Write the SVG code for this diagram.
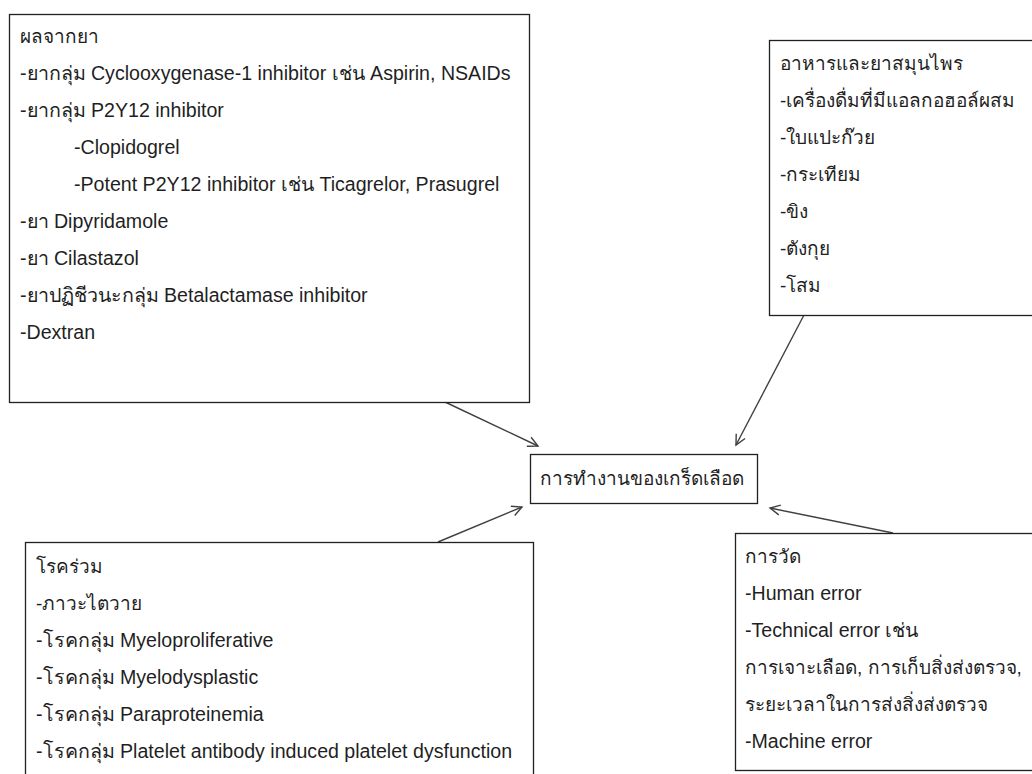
<svg xmlns="http://www.w3.org/2000/svg" width="1032" height="774" viewBox="0 0 1032 774">
<style>
.box{fill:#ffffff;stroke:#202020;stroke-width:1.3}
.t{font-family:"Liberation Sans","Noto Sans",Arial,sans-serif;font-size:19px;fill:#1f1f1f}
.l{font-size:19.6px}
.c{fill:none;stroke:#404040;stroke-width:1.4}
</style>
<defs>
<marker id="ah" markerUnits="userSpaceOnUse" markerWidth="14" markerHeight="14" refX="11" refY="6" orient="auto" viewBox="0 0 14 12">
<path d="M1,1 L11,6 L1,11" fill="none" stroke="#404040" stroke-width="1.4"/>
</marker>
</defs>
<rect width="1032" height="774" fill="#ffffff"/>
<g id="connectors">
<line class="c" x1="445" y1="402" x2="538" y2="446" marker-end="url(#ah)"/>
<line class="c" x1="804" y1="315" x2="736" y2="445" marker-end="url(#ah)"/>
<line class="c" x1="438" y1="542" x2="522" y2="507" marker-end="url(#ah)"/>
<line class="c" x1="893" y1="533" x2="770" y2="508" marker-end="url(#ah)"/>
</g>
<g id="drug-effects">
<rect class="box" x="9.5" y="14.5" width="520" height="388"/>
<text class="t" x="20" y="43">ผลจากยา</text>
<text class="t l" x="20" y="80">-ยากลุ่ม Cyclooxygenase-1 inhibitor เช่น Aspirin, NSAIDs</text>
<text class="t l" x="20" y="117">-ยากลุ่ม P2Y12 inhibitor</text>
<text class="t l" x="74" y="154">-Clopidogrel</text>
<text class="t l" x="74" y="191">-Potent P2Y12 inhibitor เช่น Ticagrelor, Prasugrel</text>
<text class="t l" x="20" y="228">-ยา Dipyridamole</text>
<text class="t l" x="20" y="265">-ยา Cilastazol</text>
<text class="t l" x="20" y="302">-ยาปฏิชีวนะกลุ่ม Betalactamase inhibitor</text>
<text class="t l" x="20" y="339">-Dextran</text>
</g>
<g id="food-herbs">
<rect class="box" x="769.5" y="40.5" width="290" height="275"/>
<text class="t" x="780" y="70">อาหารและยาสมุนไพร</text>
<text class="t" x="780" y="107">-เครื่องดื่มที่มีแอลกอฮอล์ผสม</text>
<text class="t" x="780" y="144">-ใบแปะก๊วย</text>
<text class="t" x="780" y="181">-กระเทียม</text>
<text class="t" x="780" y="218">-ขิง</text>
<text class="t" x="780" y="255">-ตังกุย</text>
<text class="t" x="780" y="292">-โสม</text>
</g>
<g id="platelet-function">
<rect class="box" x="530.5" y="454.5" width="227" height="49"/>
<text class="t" x="642" y="485" text-anchor="middle">การทำงานของเกร็ดเลือด</text>
</g>
<g id="comorbidities">
<rect class="box" x="25.5" y="542.5" width="508" height="260"/>
<text class="t" x="36" y="573">โรคร่วม</text>
<text class="t" x="36" y="610">-ภาวะไตวาย</text>
<text class="t l" x="36" y="647">-โรคกลุ่ม Myeloproliferative</text>
<text class="t l" x="36" y="684">-โรคกลุ่ม Myelodysplastic</text>
<text class="t l" x="36" y="721">-โรคกลุ่ม Paraproteinemia</text>
<text class="t l" x="36" y="758">-โรคกลุ่ม Platelet antibody induced platelet dysfunction</text>
</g>
<g id="measurement">
<rect class="box" x="735.5" y="533.5" width="320" height="237"/>
<text class="t" x="745" y="563">การวัด</text>
<text class="t l" x="745" y="600">-Human error</text>
<text class="t l" x="745" y="637">-Technical error เช่น</text>
<text class="t" x="745" y="674">การเจาะเลือด, การเก็บสิ่งส่งตรวจ,</text>
<text class="t" x="745" y="711">ระยะเวลาในการส่งสิ่งส่งตรวจ</text>
<text class="t l" x="745" y="748">-Machine error</text>
</g>
</svg>
